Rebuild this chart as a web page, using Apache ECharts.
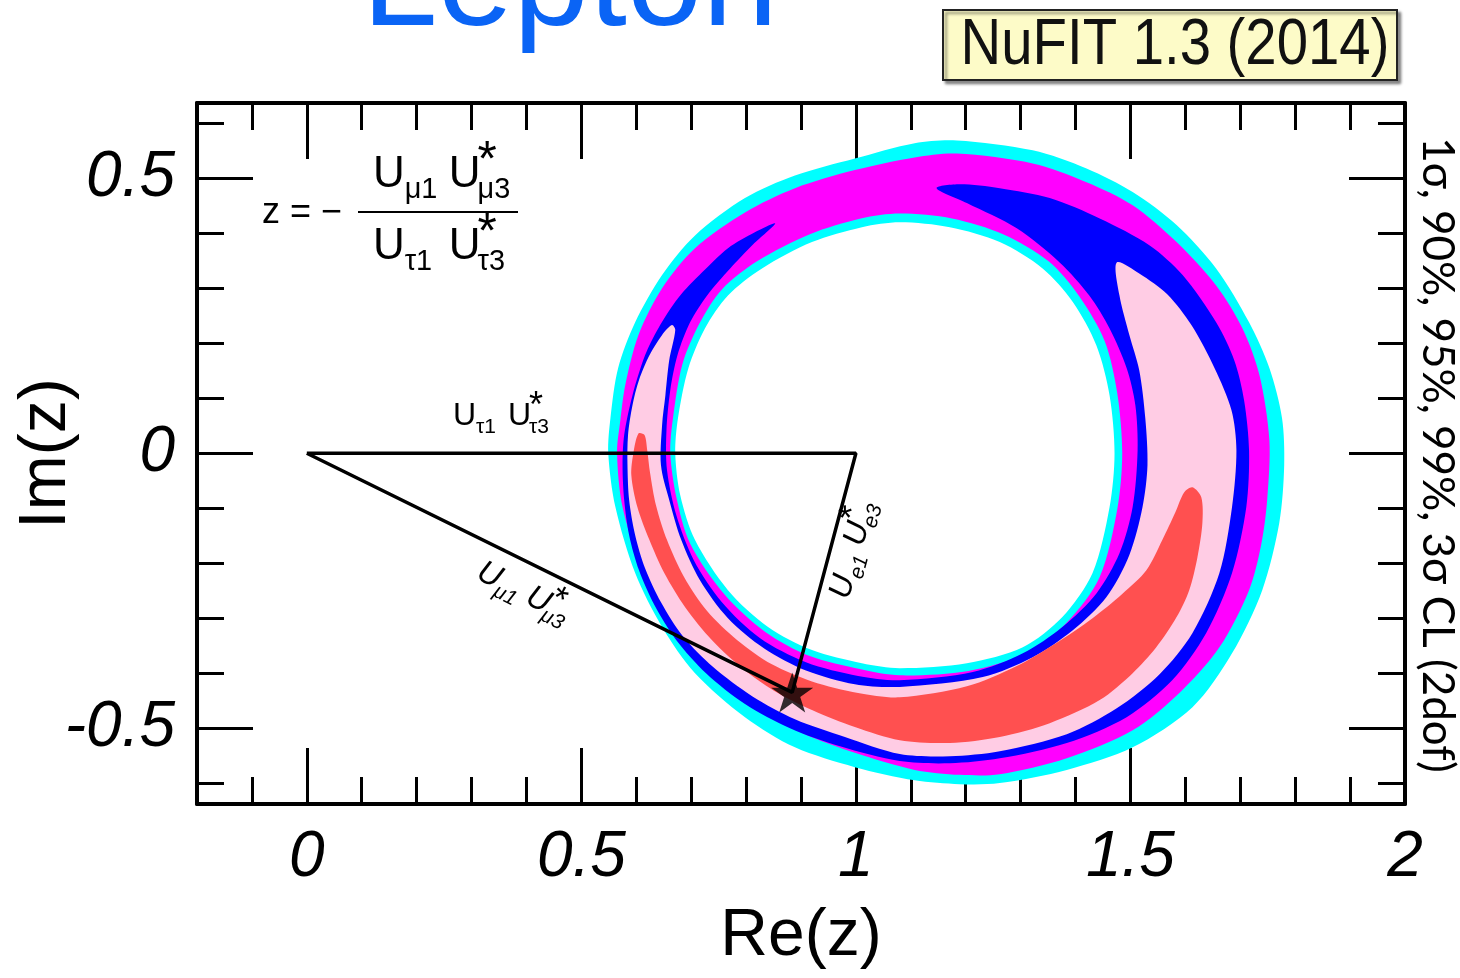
<!DOCTYPE html>
<html>
<head>
<meta charset="utf-8">
<script src="https://cdn.jsdelivr.net/npm/echarts@6/dist/echarts.min.js"></script>
<style>
  html, body { margin: 0; padding: 0; background: #ffffff; }
  #chart { width: 1460px; height: 978px; }
</style>
</head>
<body>
<div id="chart"></div>
<script>
// ---- axis extents and ticks -------------------------------------------
const xRange = [-0.2, 2.0];
const yRange = [-0.638, 0.637];
const xMinorTicks = [-0.1, 0.1, 0.2, 0.3, 0.4, 0.6, 0.7, 0.8, 0.9, 1.1, 1.2, 1.3, 1.4, 1.6, 1.7, 1.8, 1.9];
const xMajorTicks = [0, 0.5, 1, 1.5];
const xLabelValues = [0, 0.5, 1, 1.5, 2];
const yMinorTicks = [-0.6, -0.4, -0.3, -0.2, -0.1, 0.1, 0.2, 0.3, 0.4, 0.6];
const yMajorTicks = [-0.5, 0, 0.5];
const yLabelValues = [-0.5, 0, 0.5];

// ---- confidence-region contours in the Re(z)/Im(z) plane --------------
// 3 sigma region: outer boundary
const cl3sigmaOuter = [
  [0.549, 0.000], [0.553, 0.064], [0.567, 0.155], [0.598, 0.238], [0.647, 0.324],
  [0.707, 0.396], [0.798, 0.464], [0.889, 0.505], [0.998, 0.536], [1.107, 0.564],
  [1.184, 0.569], [1.322, 0.551], [1.420, 0.518], [1.504, 0.475], [1.584, 0.415],
  [1.656, 0.336], [1.716, 0.238], [1.753, 0.155], [1.776, 0.064], [1.780, -0.022],
  [1.771, -0.127], [1.740, -0.249], [1.685, -0.364], [1.613, -0.462], [1.504, -0.535],
  [1.384, -0.576], [1.262, -0.600], [1.189, -0.602], [1.107, -0.595], [0.998, -0.571],
  [0.889, -0.535], [0.798, -0.480], [0.707, -0.400], [0.647, -0.316], [0.598, -0.218],
  [0.562, -0.098]
];
// 99% region: outer boundary
const cl99Outer = [
  [0.565, 0.000], [0.571, 0.060], [0.580, 0.124], [0.604, 0.215], [0.647, 0.300],
  [0.707, 0.373], [0.798, 0.438], [0.889, 0.482], [0.998, 0.515], [1.107, 0.538],
  [1.184, 0.545], [1.322, 0.527], [1.420, 0.493], [1.504, 0.451], [1.584, 0.384],
  [1.656, 0.305], [1.704, 0.227], [1.735, 0.142], [1.753, 0.024], [1.749, -0.085],
  [1.738, -0.167], [1.716, -0.249], [1.662, -0.353], [1.589, -0.436], [1.504, -0.504],
  [1.384, -0.555], [1.262, -0.584], [1.189, -0.585], [1.107, -0.576], [0.998, -0.545],
  [0.902, -0.509], [0.804, -0.455], [0.720, -0.382], [0.658, -0.304], [0.611, -0.213],
  [0.575, -0.098]
];
// 99% region: inner boundary (hole)
const cl99Inner = [
  [0.662, 0.000], [0.667, 0.065], [0.684, 0.162], [0.715, 0.236], [0.756, 0.298],
  [0.820, 0.349], [0.915, 0.398], [1.009, 0.427], [1.080, 0.436], [1.175, 0.427],
  [1.269, 0.398], [1.351, 0.349], [1.407, 0.285], [1.453, 0.204], [1.476, 0.109],
  [1.485, 0.000], [1.476, -0.102], [1.444, -0.225], [1.385, -0.307], [1.311, -0.364],
  [1.205, -0.396], [1.080, -0.404], [1.009, -0.393], [0.916, -0.369], [0.835, -0.325],
  [0.760, -0.256], [0.698, -0.164], [0.673, -0.080]
];
// 3 sigma region: inner boundary (hole)
const cl3sigmaInner = [
  [0.671, 0.000], [0.676, 0.064], [0.695, 0.155], [0.725, 0.227], [0.767, 0.287],
  [0.829, 0.336], [0.920, 0.384], [1.011, 0.411], [1.080, 0.420], [1.171, 0.411],
  [1.262, 0.384], [1.340, 0.336], [1.395, 0.275], [1.438, 0.196], [1.462, 0.105],
  [1.471, 0.000], [1.462, -0.098], [1.431, -0.218], [1.376, -0.298], [1.304, -0.353],
  [1.202, -0.382], [1.080, -0.391], [1.011, -0.382], [0.920, -0.358], [0.840, -0.316],
  [0.767, -0.249], [0.707, -0.158], [0.680, -0.076]
];
// 95% region (open at the top)
const cl95Region = [
  [0.853, 0.418], [0.816, 0.402], [0.767, 0.373], [0.720, 0.329], [0.676, 0.282],
  [0.640, 0.227], [0.616, 0.178], [0.593, 0.105], [0.578, 0.033], [0.575, -0.022],
  [0.578, -0.085], [0.587, -0.149], [0.605, -0.213], [0.633, -0.276], [0.673, -0.340],
  [0.727, -0.400], [0.798, -0.456], [0.880, -0.500], [0.971, -0.533], [1.080, -0.560],
  [1.171, -0.564], [1.262, -0.555], [1.384, -0.527], [1.493, -0.480], [1.576, -0.413],
  [1.638, -0.327], [1.685, -0.218], [1.711, -0.098], [1.716, 0.005], [1.707, 0.096],
  [1.689, 0.169], [1.656, 0.238], [1.595, 0.324], [1.535, 0.378], [1.444, 0.427],
  [1.353, 0.464], [1.262, 0.482], [1.189, 0.489], [1.147, 0.482],
  [1.202, 0.455], [1.293, 0.409], [1.371, 0.347], [1.425, 0.287], [1.462, 0.227],
  [1.493, 0.155], [1.509, 0.087], [1.513, 0.005], [1.504, -0.098], [1.480, -0.182],
  [1.438, -0.255], [1.376, -0.316], [1.304, -0.364], [1.213, -0.398], [1.080, -0.413],
  [1.004, -0.405], [0.909, -0.380], [0.825, -0.336], [0.756, -0.271], [0.705, -0.195],
  [0.673, -0.113], [0.656, -0.031], [0.655, 0.042], [0.662, 0.115], [0.675, 0.178],
  [0.698, 0.238], [0.729, 0.287], [0.771, 0.336], [0.813, 0.380]
];
// 90% region
const cl90Region = [
  [0.665, 0.233], [0.647, 0.215], [0.624, 0.178], [0.605, 0.133], [0.593, 0.087],
  [0.585, 0.033], [0.584, -0.022], [0.587, -0.085], [0.598, -0.149], [0.616, -0.209],
  [0.645, -0.271], [0.685, -0.333], [0.740, -0.389], [0.811, -0.442], [0.889, -0.484],
  [0.980, -0.516], [1.080, -0.547], [1.171, -0.551], [1.262, -0.542], [1.384, -0.511],
  [1.475, -0.464], [1.553, -0.402], [1.613, -0.327], [1.662, -0.218], [1.685, -0.098],
  [1.693, 0.005], [1.684, 0.078], [1.653, 0.155], [1.611, 0.233], [1.567, 0.289],
  [1.516, 0.327], [1.475, 0.347],
  [1.480, 0.287], [1.498, 0.215], [1.516, 0.151], [1.527, 0.064], [1.531, -0.022],
  [1.522, -0.098], [1.498, -0.185], [1.456, -0.262], [1.395, -0.322], [1.322, -0.371],
  [1.231, -0.407], [1.080, -0.425], [0.998, -0.420], [0.909, -0.395], [0.833, -0.355],
  [0.767, -0.300], [0.716, -0.231], [0.682, -0.158], [0.660, -0.085], [0.645, -0.022],
  [0.647, 0.051], [0.653, 0.105], [0.660, 0.169], [0.671, 0.224]
];
// 1 sigma region
const cl1sigmaRegion = [
  [0.604, 0.036], [0.595, 0.002], [0.591, -0.040], [0.602, -0.098], [0.624, -0.158],
  [0.651, -0.218], [0.689, -0.280], [0.738, -0.340], [0.798, -0.395], [0.858, -0.436],
  [0.920, -0.467], [0.998, -0.498], [1.080, -0.522], [1.171, -0.527], [1.262, -0.516],
  [1.353, -0.491], [1.444, -0.449], [1.504, -0.400], [1.547, -0.353], [1.584, -0.298],
  [1.607, -0.249], [1.622, -0.189], [1.631, -0.127], [1.629, -0.080], [1.613, -0.062],
  [1.598, -0.071], [1.582, -0.107], [1.558, -0.158], [1.529, -0.213], [1.485, -0.256],
  [1.431, -0.300], [1.365, -0.345], [1.293, -0.387], [1.202, -0.424], [1.080, -0.444],
  [1.004, -0.436], [0.920, -0.415], [0.847, -0.384], [0.784, -0.340], [0.729, -0.287],
  [0.687, -0.225], [0.656, -0.158], [0.636, -0.095], [0.625, -0.035], [0.620, 0.005],
  [0.615, 0.033]
];

// ---- unitarity triangle -------------------------------------------------
const bestFit = [0.884, -0.435];
const triangle = [[0, 0], [1, 0], bestFit, [0, 0]];

// Fill layers, painted in order (later layers cover earlier ones)
const layers = [
  { name: '3σ', points: cl3sigmaOuter, color: '#00ffff' },
  { name: '99%', points: cl99Outer, color: '#ff00ff' },
  { name: '99% hole', points: cl99Inner, color: '#00ffff' },
  { name: '3σ hole', points: cl3sigmaInner, color: '#ffffff' },
  { name: '95%', points: cl95Region, color: '#0000ff' },
  { name: '90%', points: cl90Region, color: '#ffcce4' },
  { name: '1σ', points: cl1sigmaRegion, color: '#ff5050' }
];

const FONT = '"Liberation Sans", Arial, Helvetica, sans-serif';

function regionSeries(layer, order) {
  return {
    type: 'custom',
    name: layer.name,
    coordinateSystem: 'cartesian2d',
    xAxisIndex: 0,
    yAxisIndex: 0,
    silent: true,
    z: 1,
    data: [layer.points[0]],
    renderItem: function (params, api) {
      return {
        type: 'polygon',
        z2: order,
        shape: { points: layer.points.map(function (p) { return api.coord(p); }), smooth: 0.3 },
        style: { fill: layer.color, stroke: null }
      };
    }
  };
}

function xAxisDef(position, ticks, len, showLine, labels) {
  return {
    type: 'value', min: xRange[0], max: xRange[1], position: position,
    axisLine: { show: showLine, onZero: false, lineStyle: { color: '#000', width: 4 } },
    axisTick: { show: true, inside: true, length: len, customValues: ticks, lineStyle: { color: '#000', width: 3 } },
    axisLabel: labels ? {
      show: true, customValues: labels, margin: 22, color: '#000',
      fontSize: 64, fontStyle: 'italic', fontFamily: FONT,
      formatter: function (v) { return String(v); }
    } : { show: false },
    splitLine: { show: false }
  };
}
function yAxisDef(position, ticks, len, showLine, labels) {
  return {
    type: 'value', min: yRange[0], max: yRange[1], position: position,
    axisLine: { show: showLine, onZero: false, lineStyle: { color: '#000', width: 4 } },
    axisTick: { show: true, inside: true, length: len, customValues: ticks, lineStyle: { color: '#000', width: 3 } },
    axisLabel: labels ? {
      show: true, customValues: labels, margin: 22, color: '#000',
      fontSize: 64, fontStyle: 'italic', fontFamily: FONT,
      formatter: function (v) { return String(v); }
    } : { show: false },
    splitLine: { show: false }
  };
}

// Sub/superscripted product such as U_a U*_b, built from plain text pieces
function productLabel(x, y, rotation, subA, subB, italic, size) {
  const s = size / 32;
  const parts = [
    ['U', 0, 0, 32], [subA, 23, 11, 21], ['U', 55, 0, 32], ['*', 76, -9, 36], [subB, 76, 11, 21]
  ];
  return {
    type: 'group', x: x, y: y, rotation: rotation, z: 50,
    children: parts.map(function (p) {
      return {
        type: 'text', x: p[1] * s, y: p[2] * s, z: 50,
        style: {
          text: p[0], fontSize: p[3] * s, fontFamily: FONT,
          fontStyle: italic ? 'italic' : 'normal', fill: '#000',
          align: 'left', verticalAlign: 'middle'
        }
      };
    })
  };
}

const chart = echarts.init(document.getElementById('chart'), null, { renderer: 'canvas' });

const series = layers.map(regionSeries);
series.push({
  type: 'line', name: 'triangle', data: triangle, xAxisIndex: 0, yAxisIndex: 0,
  symbol: 'none', z: 5, silent: true,
  lineStyle: { color: '#000', width: 3.5 }
});
series.push({
  type: 'scatter', name: 'best fit', data: [bestFit], xAxisIndex: 0, yAxisIndex: 0,
  z: 6, silent: true,
  symbol: 'path://M0,-10 L2.245,-3.09 L9.51,-3.09 L3.633,1.18 L5.88,8.09 L0,3.82 L-5.88,8.09 L-3.633,1.18 L-9.51,-3.09 L-2.245,-3.09 Z',
  symbolSize: [42, 40],
  itemStyle: { color: '#000' }
});

chart.setOption({
  animation: false,
  backgroundColor: '#ffffff',
  grid: { left: 197, top: 103, right: 55, bottom: 174, containLabel: false, outerBoundsMode: 'none' },
  xAxis: [
    Object.assign(xAxisDef('bottom', xMinorTicks, 27, true, xLabelValues), {
      name: 'Re(z)', nameLocation: 'middle', nameGap: 100, nameMoveOverlap: false,
      nameTextStyle: { fontSize: 66, fontFamily: FONT, color: '#000' }
    }),
    xAxisDef('bottom', xMajorTicks, 56, false, null),
    xAxisDef('top', xMinorTicks, 27, true, null),
    xAxisDef('top', xMajorTicks, 56, false, null)
  ],
  yAxis: [
    Object.assign(yAxisDef('left', yMinorTicks, 27, true, yLabelValues), {
      name: 'Im(z)', nameLocation: 'middle', nameGap: 117, nameMoveOverlap: false,
      nameTextStyle: { fontSize: 66, fontFamily: FONT, color: '#000' }
    }),
    yAxisDef('left', yMajorTicks, 56, false, null),
    yAxisDef('right', yMinorTicks, 27, true, null),
    yAxisDef('right', yMajorTicks, 56, false, null)
  ],
  series: series,
  graphic: [
    {
      type: 'text', x: 362, y: 55, z: 50,
      style: { text: 'Lepton', fontSize: 136, fontFamily: FONT, fill: '#0a64f5', align: 'left', verticalAlign: 'bottom' }
    },
    {
      type: 'rect', z: 50,
      shape: { x: 943, y: 10, width: 454, height: 70 },
      style: { fill: '#fdfbc8', stroke: '#222', lineWidth: 2, shadowColor: 'rgba(0,0,0,0.45)', shadowOffsetX: 3, shadowOffsetY: 3, shadowBlur: 3 }
    },
    {
      type: 'text', x: 1175, y: 46, z: 51, scaleX: 0.88,
      style: { text: 'NuFIT 1.3 (2014)', fontSize: 64, fontFamily: FONT, fill: '#111', align: 'center', verticalAlign: 'middle' }
    },
    {
      type: 'text', x: 1437, y: 455, rotation: -Math.PI / 2, z: 50,
      style: { text: '1σ, 90%, 95%, 99%, 3σ CL (2dof)', fontSize: 44, fontFamily: 'Lato, sans-serif', fill: '#000', align: 'center', verticalAlign: 'middle' }
    },
    // z = - (U_mu1 U*_mu3) / (U_tau1 U*_tau3)
    {
      type: 'text', x: 262, y: 213, z: 50,
      style: { text: 'z = −', fontSize: 36, fontFamily: FONT, fill: '#000', align: 'left', verticalAlign: 'middle' }
    },
    {
      type: 'line', z: 50,
      shape: { x1: 358, y1: 212, x2: 518, y2: 212 },
      style: { stroke: '#000', lineWidth: 2 }
    },
    productLabel(373, 175, 0, 'μ1', 'μ3', false, 44),
    productLabel(373, 247, 0, 'τ1', 'τ3', false, 44),
    productLabel(453, 416, 0, 'τ1', 'τ3', false, 32),
    productLabel(479, 570, -0.47, 'μ1', 'μ3', true, 32),
    productLabel(840, 598, 1.31, 'e1', 'e3', true, 32)
  ]
});
</script>
</body>
</html>
